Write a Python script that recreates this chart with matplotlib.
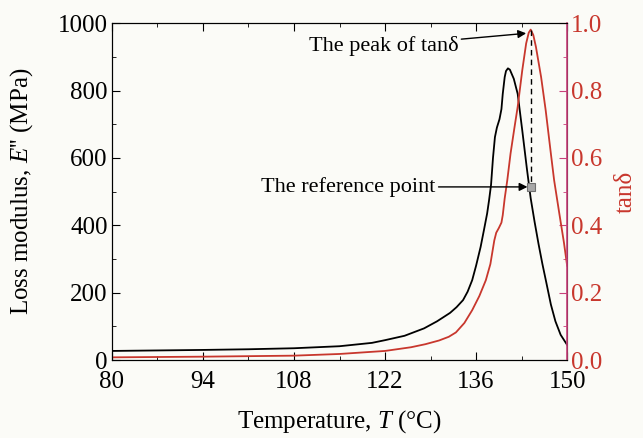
import matplotlib.pyplot as plt
from matplotlib.ticker import MultipleLocator

# loss modulus E'' (MPa) vs temperature
temp_e = [80, 87, 94, 101, 108, 115, 120, 122, 125, 128, 130, 132, 133,
          134, 134.7, 135.4, 136.0, 136.7, 137.2, 137.7, 138.0, 138.3,
          138.6, 138.9, 139.2, 139.6, 139.9, 140.1, 140.4, 140.6, 140.9,
          141.2, 141.8, 142.4, 143.1, 143.8, 144.4, 145.0, 145.6, 146.2,
          146.8, 147.5, 148.2, 149.0, 150]
loss_modulus = [27, 28.5, 30, 32, 35, 41, 51, 59, 72, 94, 115, 140, 157,
                178, 203, 237, 280, 336, 385, 435, 475, 520,
                600, 662, 690, 715, 745, 790, 840, 858, 866,
                862, 835, 790, 682, 570, 480, 410, 345, 285,
                230, 165, 115, 75, 45]

# tan delta vs temperature
temp_tan = [80, 94, 108, 115, 122, 126, 128.2, 130.3, 131.8, 132.9, 134.2,
            135.4, 136.5, 137.5, 138.2, 138.5, 138.8, 139.1, 139.5, 139.9,
            140.1, 140.4, 140.8, 141.3, 141.9, 142.4, 143.1, 143.7, 144.1,
            144.4, 144.8, 145.2, 146.0, 146.7, 147.5, 148.0, 148.8, 149.5, 150]
tan_delta = [0.008, 0.010, 0.013, 0.018, 0.027, 0.038, 0.047, 0.058, 0.069,
             0.082, 0.11, 0.148, 0.19, 0.237, 0.285, 0.32, 0.355, 0.378,
             0.392, 0.408, 0.43, 0.48, 0.534, 0.613, 0.69, 0.752, 0.86,
             0.94, 0.972, 0.981, 0.965, 0.93, 0.84, 0.742, 0.613, 0.534,
             0.435, 0.35, 0.28]

peak_t, peak_tan = 144.4, 0.981
ref_t, ref_tan = 144.4, 0.514

plt.rcParams["font.family"] = "Liberation Serif"
plt.rcParams["mathtext.fontset"] = "custom"
plt.rcParams["mathtext.it"] = "Liberation Serif:italic"
plt.rcParams["mathtext.rm"] = "Liberation Serif"

red = "#c8372d"
pink = "#c8407a"
bg = "#fbfbf7"

fig = plt.figure(figsize=(6.43, 4.38), dpi=100, facecolor=bg)
ax = fig.add_axes([0.174, 0.178, 0.708, 0.769], facecolor=bg)
ax2 = ax.twinx()

ax.plot(temp_e, loss_modulus, color="black", lw=1.3)
ax2.plot(temp_tan, tan_delta, color=red, lw=1.3)

ax.set_xlim(80, 150)
ax.set_ylim(0, 1000)
ax2.set_ylim(0, 1.0)

ax.set_xticks(range(80, 151, 14))
ax.set_xticks(range(87, 150, 14), minor=True)
ax.yaxis.set_major_locator(MultipleLocator(200))
ax.yaxis.set_minor_locator(MultipleLocator(100))
ax2.yaxis.set_major_locator(MultipleLocator(0.2))
ax2.yaxis.set_minor_locator(MultipleLocator(0.1))
ax2.yaxis.set_major_formatter(plt.FormatStrFormatter("%.1f"))

ax.tick_params(which="both", direction="in", top=True, right=False,
               labelsize=18, pad=3)
ax.tick_params(axis="x", which="both", pad=8)
ax.tick_params(which="major", length=6)
ax.tick_params(which="minor", length=3)
ax2.tick_params(which="both", direction="in", colors=pink,
                labelcolor=red, labelsize=18, pad=3)
ax2.tick_params(which="major", length=6)
ax2.tick_params(which="minor", length=3)
ax2.spines["right"].set_color(pink)
ax2.spines["right"].set_linewidth(1.2)

ax.set_xlabel("Temperature, $T$ (°C)", fontsize=18, labelpad=11)
ax.set_ylabel("Loss modulus, $E$'' (MPa)", fontsize=18, labelpad=16)
ax2.set_ylabel("tanδ", fontsize=18, color=red, labelpad=9)

# peak and reference point
ax2.plot([peak_t, ref_t], [peak_tan, ref_tan], color="black", lw=1,
         ls=(0, (4, 3)))
ax2.plot(ref_t, ref_tan, marker="s", ms=6, color="#a8a8a8",
         markeredgecolor="#707070", markeredgewidth=0.8)

arrow = dict(arrowstyle="-|>", color="black", lw=1, mutation_scale=12,
             shrinkA=0, shrinkB=0)
ax2.annotate("The peak of tanδ", xy=(143.7, 0.97), xytext=(133.3, 0.932),
             ha="right", va="center", fontsize=16, arrowprops=arrow)
ax2.annotate("The reference point", xy=(143.9, ref_tan),
             xytext=(129.8, ref_tan), ha="right", va="center",
             fontsize=16, arrowprops=arrow)

fig.savefig("out.png", dpi=100, facecolor=bg)
